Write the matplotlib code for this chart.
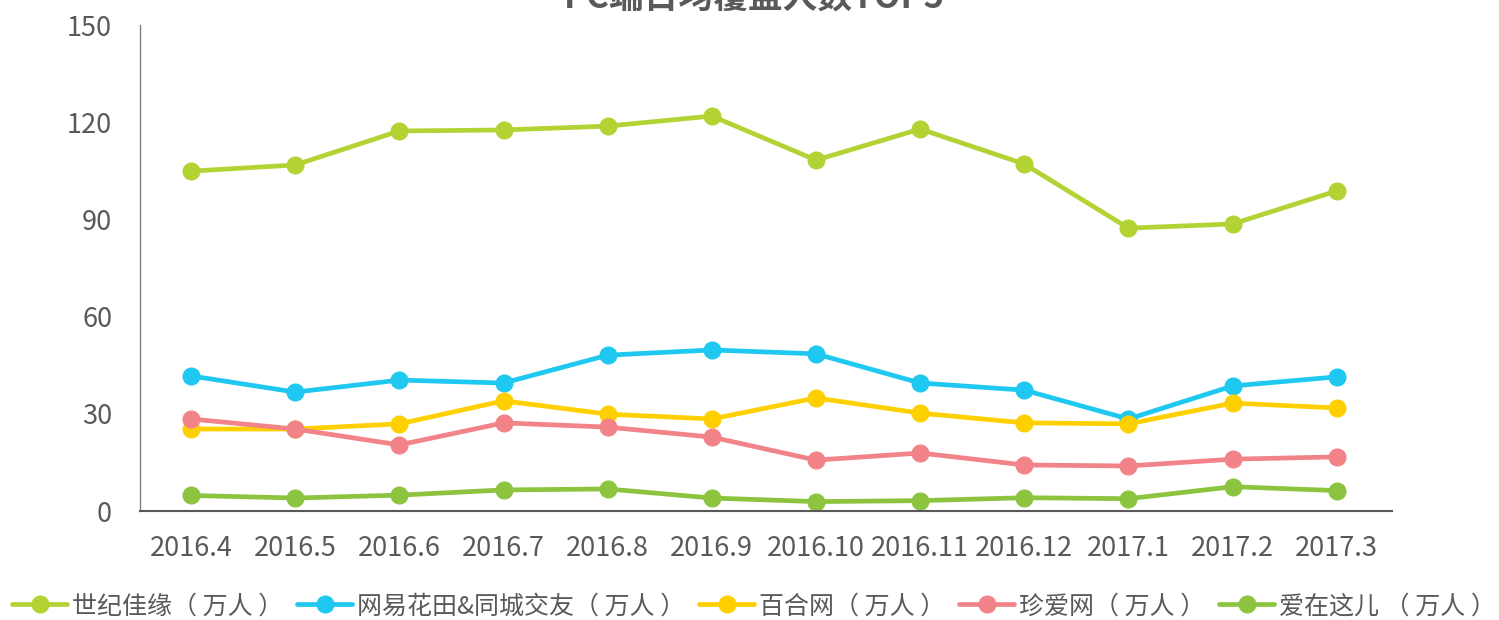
import matplotlib
matplotlib.use("Agg")
import matplotlib.pyplot as plt

plt.rcParams['font.family'] = ['Noto Sans CJK SC', 'DejaVu Sans']

months = ["2016.4", "2016.5", "2016.6", "2016.7", "2016.8", "2016.9",
          "2016.10", "2016.11", "2016.12", "2017.1", "2017.2", "2017.3"]

jiayuan = [104.9, 106.8, 117.3, 117.6, 118.8, 121.9, 108.3, 117.9, 107.1, 87.3, 88.6, 98.8]
huatian = [41.7, 36.7, 40.4, 39.5, 48.1, 49.7, 48.5, 39.5, 37.3, 28.4, 38.6, 41.4]
baihe = [25.3, 25.3, 26.9, 34.0, 29.9, 28.4, 34.9, 30.2, 27.2, 26.9, 33.3, 31.8]
zhenai = [28.4, 25.3, 20.4, 27.2, 25.9, 22.8, 15.7, 17.9, 14.2, 13.9, 16.0, 16.7]
aizaizheer = [4.8, 4.0, 4.9, 6.5, 6.8, 4.0, 2.9, 3.2, 4.1, 3.8, 7.5, 6.3]

series = [
    ("世纪佳缘（ 万人 ）", jiayuan, "#B3D334"),
    ("网易花田&同城交友（ 万人 ）", huatian, "#1FC8F0"),
    ("百合网（ 万人 ）", baihe, "#FFD000"),
    ("珍爱网（ 万人 ）", zhenai, "#F28389"),
    ("爱在这儿 （ 万人 ）", aizaizheer, "#8CC43F"),
]

grey = "#595959"

fig = plt.figure(figsize=(14.99, 6.2), dpi=100)
ax = fig.add_axes([140 / 1499, 1 - 511 / 620, (1392 - 140) / 1499, (511 - 25) / 620])

x = list(range(len(months)))
for label, vals, color in series:
    ax.plot(x, vals, color=color, lw=3.4, marker="o", ms=12,
            solid_capstyle="round", label=label)

ax.set_xlim(-0.49, 11.53)
ax.set_ylim(0, 150)
ax.set_yticks([0, 30, 60, 90, 120, 150])
ax.set_xticks(x)
ax.set_xticklabels(months)
ax.tick_params(axis="both", length=0, labelsize=19.5, colors=grey)
ax.tick_params(axis="y", pad=20)
ax.tick_params(axis="x", pad=17)

for side in ["top", "right"]:
    ax.spines[side].set_visible(False)
ax.spines["left"].set_color("#808080")
ax.spines["left"].set_linewidth(1)
ax.spines["bottom"].set_color(grey)
ax.spines["bottom"].set_linewidth(1.5)

fig.text(0.503, 1 + 2 / 620, "PC端日均覆盖人数TOP5", ha="center", va="center",
         fontsize=25, fontweight="bold", color=grey)

leg = fig.legend(loc="lower center", bbox_to_anchor=(0.503, -0.035), ncol=5,
                 frameon=False, fontsize=18, handlelength=2.2,
                 columnspacing=0.55, handletextpad=0.2)
for t in leg.get_texts():
    t.set_color(grey)

fig.savefig("out.png", dpi=100)
